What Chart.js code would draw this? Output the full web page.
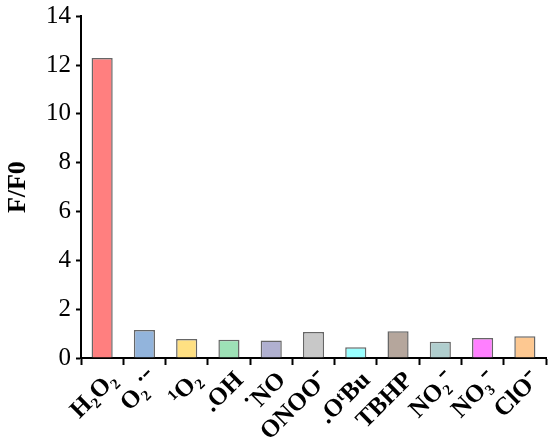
<!DOCTYPE html>
<html>
<head>
<meta charset="utf-8">
<script src="https://cdn.jsdelivr.net/npm/chart.js@4"></script>
<style>
  html, body { margin: 0; padding: 0; background: #ffffff; }
  #wrap { width: 550px; height: 444px; }
</style>
</head>
<body>
<div id="wrap"><canvas id="c" width="550" height="444"></canvas></div>
<script>
const categories = ["H\u2082O\u2082", "O\u2082\u02D9\u207B", "\u00B9O\u2082", ".OH", "\u02D9NO", "ONOO\u207B", ".O\u1D57Bu", "TBHP", "NO\u2082\u207B", "NO\u2083\u207B", "ClO\u207B"];
const ratioValues = [12.29, 1.15, 0.78, 0.75, 0.72, 1.06, 0.44, 1.10, 0.67, 0.82, 0.89];
const barColors = ["#FF7F7F", "#92B4DC", "#FFE082", "#9DE1B6", "#B0B0D0", "#C8C8C8", "#99FFFF", "#B5A69C", "#B0CECE", "#FF7FFF", "#FDC891"];
const yTickValues = [0, 2, 4, 6, 8, 10, 12, 14];
const yTitle = "F/F0";

const serif = "'Liberation Serif', 'Times New Roman', serif";

new Chart(document.getElementById('c'), {
  type: 'bar',
  data: {
    labels: categories,
    datasets: [{
      data: ratioValues,
      backgroundColor: barColors,
      borderColor: '#666666',
      borderWidth: 1.5,
      borderSkipped: 'bottom',
      barPercentage: 0.5,
      categoryPercentage: 1.0
    }]
  },
  options: {
    responsive: false,
    animation: false,
    layout: { padding: { top: 14, right: 4, left: 3, bottom: 0 } },
    plugins: { legend: { display: false }, tooltip: { enabled: false } },
    scales: {
      x: {
        grid: { display: true, drawOnChartArea: false, drawTicks: true, tickLength: 7, tickWidth: 2, tickColor: '#000' },
        border: { display: true, color: '#000', width: 2 },
        ticks: {
          color: '#000',
          font: { family: serif, size: 25, weight: 'bold' },
          maxRotation: 45, minRotation: 45,
          autoSkip: false,
          padding: 1,
          labelOffset: 11
        },
        afterFit: (s) => { s.height = 86; }
      },
      y: {
        min: 0, max: 14,
        grid: { display: true, drawOnChartArea: false, drawTicks: true, tickLength: 5, tickWidth: 2, tickColor: '#000' },
        border: { display: true, color: '#000', width: 2 },
        ticks: {
          stepSize: 1,
          color: '#000',
          font: { family: serif, size: 25, lineHeight: 0.9 },
          padding: 5,
          callback: (v) => yTickValues.includes(v) ? String(v) : ''
        },
        title: {
          display: true, text: yTitle, color: '#000',
          font: { family: serif, size: 26, weight: 'bold' },
          padding: { top: 0, bottom: 0 }
        },
        afterFit: (s) => { s.width = 78; }
      }
    }
  }
});
</script>
</body>
</html>
